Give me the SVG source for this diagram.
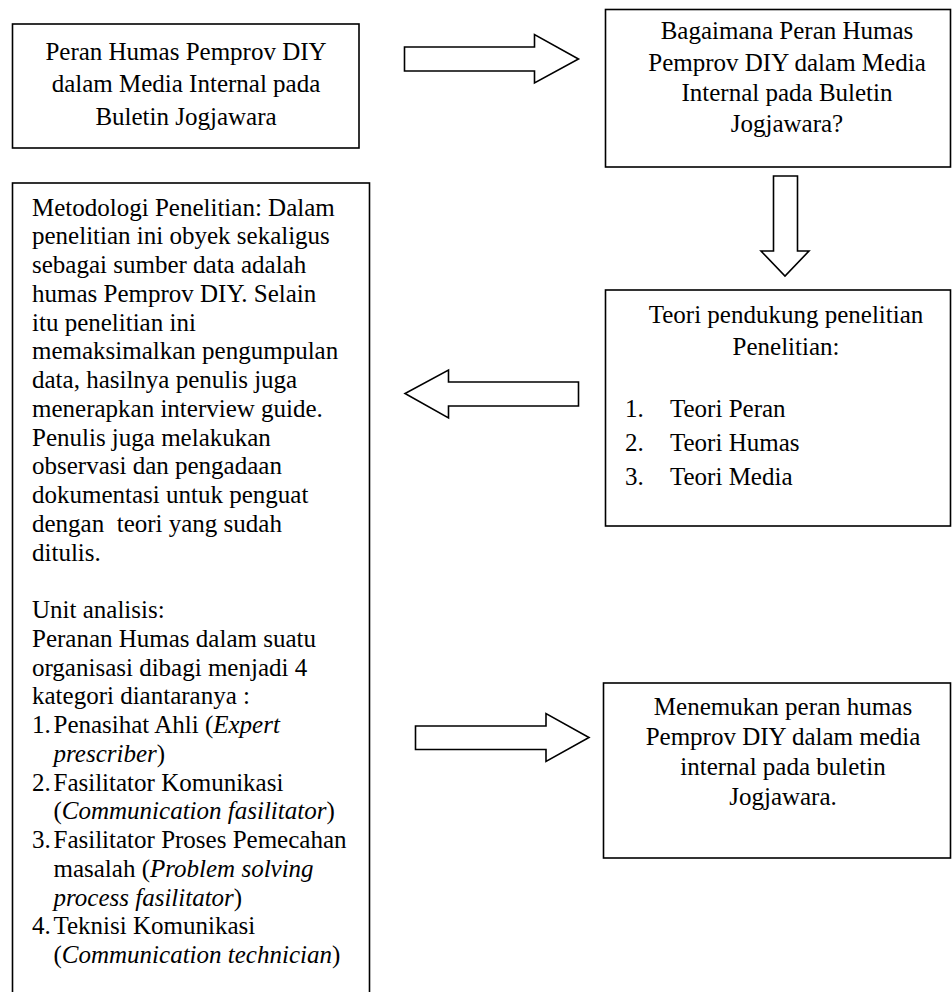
<svg xmlns="http://www.w3.org/2000/svg" width="952" height="992" viewBox="0 0 952 992">
<style>
.box{fill:#fff;stroke:#000;stroke-width:1.6}
.arr{fill:#fff;stroke:#000;stroke-width:1.6;stroke-linejoin:miter}
text{font-family:"Liberation Serif","Times New Roman",serif;font-size:25px;fill:#000}
.c{text-anchor:middle}
.i{font-style:italic}
</style>
<rect width="952" height="992" fill="#fff"/>
<g id="node-peran">
<rect class="box" x="12.5" y="24" width="346.5" height="124"/>
<text class="c" x="186" y="59.5">Peran Humas Pemprov DIY</text>
<text class="c" x="186" y="92">dalam Media Internal pada</text>
<text class="c" x="186" y="124.5">Buletin Jogjawara</text>
</g>
<g id="node-bagaimana">
<rect class="box" x="605.5" y="9.5" width="345" height="157.5"/>
<text class="c" x="787" y="39">Bagaimana Peran Humas</text>
<text class="c" x="787" y="70.5">Pemprov DIY dalam Media</text>
<text class="c" x="787" y="101">Internal pada Buletin</text>
<text class="c" x="787" y="131.5">Jogjawara?</text>
</g>
<g id="node-teori">
<rect class="box" x="605.5" y="290" width="345" height="236"/>
<text class="c" x="786" y="322.5">Teori pendukung penelitian</text>
<text class="c" x="786" y="355">Penelitian:</text>
<text x="625" y="417">1.</text><text x="670" y="417">Teori Peran</text>
<text x="625" y="451">2.</text><text x="670" y="451">Teori Humas</text>
<text x="625" y="485">3.</text><text x="670" y="485">Teori Media</text>
</g>
<g id="node-metodologi">
<rect class="box" x="12.5" y="183" width="357" height="830"/>
<text x="32" y="215.5">Metodologi Penelitian: Dalam</text>
<text x="32" y="244.25">penelitian ini obyek sekaligus</text>
<text x="32" y="273">sebagai sumber data adalah</text>
<text x="32" y="301.75">humas Pemprov DIY. Selain</text>
<text x="32" y="330.5">itu penelitian ini</text>
<text x="32" y="359.25">memaksimalkan pengumpulan</text>
<text x="32" y="388">data, hasilnya penulis juga</text>
<text x="32" y="416.75">menerapkan interview guide.</text>
<text x="32" y="445.5">Penulis juga melakukan</text>
<text x="32" y="474.25">observasi dan pengadaan</text>
<text x="32" y="503">dokumentasi untuk penguat</text>
<text x="32" y="531.75" xml:space="preserve">dengan  teori yang sudah</text>
<text x="32" y="560.5">ditulis.</text>
<text x="32" y="618">Unit analisis:</text>
<text x="32" y="646.75">Peranan Humas dalam suatu</text>
<text x="32" y="675.5">organisasi dibagi menjadi 4</text>
<text x="32" y="704.25">kategori diantaranya :</text>
<text x="32" y="733">1.</text><text x="53.5" y="733">Penasihat Ahli (<tspan class="i">Expert</tspan></text>
<text x="53.5" y="761.75"><tspan class="i">prescriber</tspan>)</text>
<text x="32" y="790.5">2.</text><text x="53.5" y="790.5">Fasilitator Komunikasi</text>
<text x="53.5" y="819.25">(<tspan class="i">Communication fasilitator</tspan>)</text>
<text x="32" y="848">3.</text><text x="53.5" y="848">Fasilitator Proses Pemecahan</text>
<text x="53.5" y="876.75">masalah (<tspan class="i">Problem solving</tspan></text>
<text x="53.5" y="905.5"><tspan class="i">process fasilitator</tspan>)</text>
<text x="32" y="934.25">4.</text><text x="53.5" y="934.25">Teknisi Komunikasi</text>
<text x="53.5" y="963">(<tspan class="i">Communication technician</tspan>)</text>
</g>
<g id="node-menemukan">
<rect class="box" x="603.5" y="683" width="347" height="175"/>
<text class="c" x="783" y="715">Menemukan peran humas</text>
<text class="c" x="783" y="745">Pemprov DIY dalam media</text>
<text class="c" x="783" y="775">internal pada buletin</text>
<text class="c" x="783" y="805">Jogjawara.</text>
</g>
<g id="connectors">
<polygon class="arr" points="404.5,47 534.5,47 534.5,34.5 578.5,59 534.5,83 534.5,71 404.5,71"/>
<polygon class="arr" points="773.5,176 797.5,176 797.5,251 809,251 785,276 761,251 773.5,251"/>
<polygon class="arr" points="578.5,382 448.5,382 448.5,370 405,393.5 448.5,418 448.5,406 578.5,406"/>
<polygon class="arr" points="415.5,726 546,726 546,713.5 589,737.5 546,761.5 546,749.5 415.5,749.5"/>
</g>
</svg>
